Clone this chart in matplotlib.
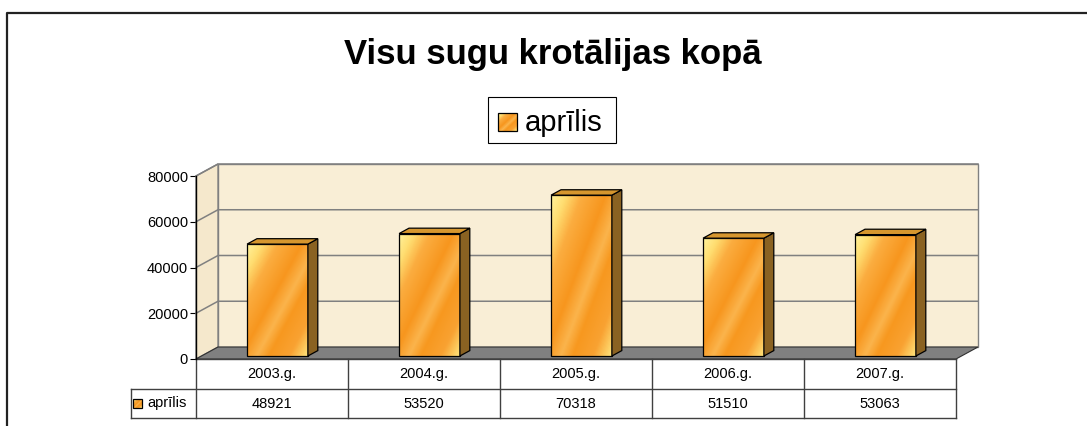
import numpy as np
import matplotlib
matplotlib.use("Agg")
import matplotlib.pyplot as plt
from matplotlib.patches import Polygon, Rectangle
from matplotlib.lines import Line2D
from matplotlib.transforms import IdentityTransform
from matplotlib.colors import LinearSegmentedColormap

# data
years = ["2003.g.", "2004.g.", "2005.g.", "2006.g.", "2007.g."]
values = [48921, 53520, 70318, 51510, 53063]
series_name = "aprīlis"
title = "Visu sugu krotālijas kopā"
yticks = [0, 20000, 40000, 60000, 80000]

plt.rcParams["font.family"] = ["Liberation Sans", "DejaVu Sans"]

W, H = 1087, 426
fig = plt.figure(figsize=(W / 100, H / 100), dpi=100)
ax = fig.add_axes([196 / W, 67 / H, 760 / W, 183 / H])
ax.set_xlim(-0.5, len(years) - 0.5)
ax.set_ylim(0, 80000)
ax.patch.set_visible(False)
for s in ["top", "right", "bottom"]:
    ax.spines[s].set_visible(False)
ax.spines["left"].set_color("black")
ax.spines["left"].set_linewidth(1.0)
ax.spines["left"].set_zorder(6)
ax.set_xticks([])
ax.set_yticks(yticks)
ax.set_yticklabels([str(t) for t in yticks])
ax.tick_params(axis="y", length=4.3, width=0.8, direction="out", labelsize=10.5, pad=1.4)

ident = IdentityTransform()
DX, DY = 22, 12  # full depth offset in pixels


def P(x, v, d=0.0):
    px, py = ax.transData.transform((x, v))
    return (px + d * DX, py + d * DY)


def poly(pts, **kw):
    ax.add_patch(Polygon(pts, closed=True, transform=ident, clip_on=False, **kw))


def line(xs, ys, **kw):
    ax.add_line(Line2D(xs, ys, transform=ident, clip_on=False, **kw))


cmap = LinearSegmentedColormap.from_list("barfill", [
    (0.0, "#fff29a"), (0.12, "#ffdd70"), (0.25, "#fbad40"), (0.45, "#f7961e"),
    (0.58, "#fbb44c"), (0.68, "#f7981f"), (0.85, "#f9a232"), (1.0, "#ffe37a")])


def gradient(fx0, fy0, fx1, fy1, z):
    nx, ny = max(int(fx1 - fx0), 2), max(int(fy1 - fy0), 2)
    xx, yy = np.meshgrid(np.linspace(0, 1, nx), np.linspace(0, 1, ny))
    u = (xx + 1 - yy) / 2
    ax.imshow(u, cmap=cmap, extent=(fx0, fx1, fy0, fy1), origin="lower",
              transform=ident, interpolation="bilinear", aspect="auto",
              clip_on=False, zorder=z, vmin=0, vmax=1)
    ax.add_patch(Rectangle((fx0, fy0), fx1 - fx0, fy1 - fy0, transform=ident,
                           fill=False, edgecolor="black", lw=0.9, clip_on=False, zorder=z + 1))


x0, x1 = -0.5, len(years) - 0.5
top = yticks[-1]

# walls
poly([P(x0, 0, 1), P(x1, 0, 1), P(x1, top, 1), P(x0, top, 1)],
     facecolor="#f9eed6", edgecolor="#808080", lw=1.0, zorder=1)
poly([P(x0, 0, 0), P(x0, 0, 1), P(x0, top, 1), P(x0, top, 0)],
     facecolor="#f5e8cc", edgecolor="#808080", lw=1.0, zorder=1)

# gridlines
for t in yticks[1:]:
    a, b, c = P(x0, t, 0), P(x0, t, 1), P(x1, t, 1)
    line([a[0], b[0], c[0]], [a[1], b[1], c[1]], color="#808080", lw=1.1, zorder=2)

# floor
poly([P(x0, 0, 0), P(x1, 0, 0), P(x1, 0, 1), P(x0, 0, 1)],
     facecolor="#808080", edgecolor="#303030", lw=0.8, zorder=2)

# bars
bw = 0.2
d0, d1 = 0.25, 0.7
for i, v in enumerate(values):
    fx0, fy0 = P(i - bw, 0, d0)
    fx1, fy1 = P(i + bw, v, d0)
    gradient(fx0, fy0, fx1, fy1, 3)
    poly([P(i + bw, 0, d0), P(i + bw, 0, d1), P(i + bw, v, d1), P(i + bw, v, d0)],
         facecolor="#8a6222", edgecolor="black", lw=0.9, zorder=4)
    poly([P(i - bw, v, d0), P(i + bw, v, d0), P(i + bw, v, d1), P(i - bw, v, d1)],
         facecolor="#d6962e", edgecolor="black", lw=0.9, zorder=4)

# data table
tc = "#404040"
r0 = P(x0, 0)[1]
r1 = H - 389
r2 = H - 418
left_cell = 131
right_x = P(x1, 0)[0]
line([P(x0, 0)[0], right_x], [r0, r0], color=tc, lw=1.0, zorder=5)
line([left_cell, right_x], [r1, r1], color=tc, lw=1.0, zorder=5)
line([left_cell, right_x], [r2, r2], color=tc, lw=1.0, zorder=5)
line([left_cell, left_cell], [r1, r2], color=tc, lw=1.0, zorder=5)
for k in range(len(years) + 1):
    bx = P(k - 0.5, 0)[0]
    line([bx, bx], [r0, r2], color=tc, lw=1.0, zorder=5)
for i, (yr, v) in enumerate(zip(years, values)):
    cx = P(i, 0)[0]
    ax.text(cx, (r0 + r1) / 2, yr, transform=ident, ha="center", va="center",
            fontsize=10.5, clip_on=False)
    ax.text(cx, (r1 + r2) / 2, str(v), transform=ident, ha="center", va="center",
            fontsize=10.5, clip_on=False)
ym = (r1 + r2) / 2
gradient(133, ym - 4.5, 142, ym + 4.5, 6)
ax.text(147, ym, series_name, transform=ident, ha="left", va="center",
        fontsize=10.5, clip_on=False)

# legend
ax.add_patch(Rectangle((488, H - 143), 128, 46, transform=ident, clip_on=False,
                       facecolor="white", edgecolor="black", lw=0.8, zorder=6))
gradient(498, H - 131, 517, H - 113, 7)
ax.text(525, H - 131, series_name, transform=ident, ha="left", va="baseline",
        fontsize=21, clip_on=False, zorder=8)

ax.set_xlim(x0, x1)
ax.set_ylim(0, top)

# title
fig.text(553, H - 64, title, transform=ident, ha="center", va="baseline",
         fontsize=25, fontweight="bold")

# chart frame
fig.add_artist(Line2D([7, 7, W], [0, H - 13, H - 13], transform=ident,
                      color="#222222", lw=1.6))

fig.savefig("out.png", dpi=100)
